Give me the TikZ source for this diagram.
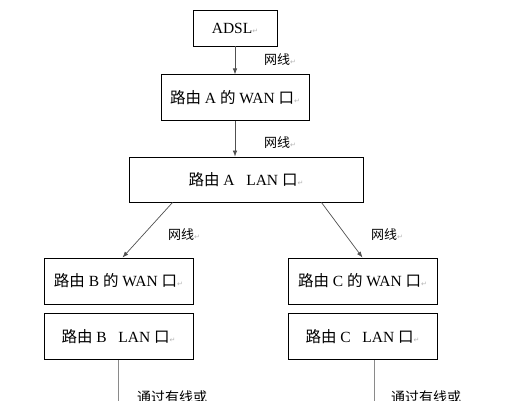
\documentclass[tikz,border=0pt]{standalone}
\usepackage{fontspec}
\setmainfont{Liberation Serif}
\newfontfamily\cjk{Noto Sans CJK SC}
\newfontfamily\symfont{DejaVu Sans}
\usepackage{tikz}
\usetikzlibrary{arrows.meta, positioning}
\definecolor{LineGray}{HTML}{505050}
\definecolor{LeadGray}{HTML}{8A8A8A}
\definecolor{MarkGray}{HTML}{B4B4B4}
\newcommand{\zh}[1]{{\cjk #1}}
\newcommand{\ret}{{\symfont\color{MarkGray}\fontsize{7}{7}\selectfont ↵}}

\begin{document}
\begin{tikzpicture}[x=1pt, y=-1pt, >=Latex,
  box/.style={draw, line width=0.8pt, inner sep=0pt, minimum width=149pt, minimum height=46pt, font=\fontsize{15.5}{17}\selectfont},
  wire/.style={-{Latex[length=6pt,width=4.5pt]}, draw=LineGray, line width=0.7pt},
  lead/.style={draw=LeadGray, line width=0.8pt},
  tag/.style={inner sep=0pt, font=\fontsize{13}{14}\selectfont}]
  \useasboundingbox (0,0) rectangle (512,400);
  \clip (0,0) rectangle (512,400);
  % top chain
  \node[box, minimum width=84pt, minimum height=36pt] (adsl) at (235,28) {ADSL\ret};
  \node[box, minimum width=148pt, below=28pt of adsl] (wanA) {\zh{路由} A \zh{的} WAN \zh{口}\ret};
  \node[box, minimum width=234pt, minimum height=45pt] (lanA) at (246,179.5) {\zh{路由} A\ \ \ LAN \zh{口}\ret};
  % routers B and C
  \node[box] (wanB) at (118.5,281) {\zh{路由} B \zh{的} WAN \zh{口}\ret};
  \node[box, below=9pt of wanB] (lanB) {\zh{路由} B\ \ \ LAN \zh{口}\ret};
  \node[box] (wanC) at (362.5,281) {\zh{路由} C \zh{的} WAN \zh{口}\ret};
  \node[box, below=9pt of wanC] (lanC) {\zh{路由} C\ \ \ LAN \zh{口}\ret};

  \draw[wire] (adsl) -- (wanA);
  \draw[wire] (wanA.south) -- (wanA.south |- lanA.north);
  \draw[wire] ([xshift=44pt]lanA.south west) -- ([xshift=4pt]wanB.north);
  \draw[wire] ([xshift=-42pt]lanA.south east) -- (wanC.north);

  \node[tag, anchor=west] (tag1) at (264,60) {\zh{网线}\ret};
  \node[tag, anchor=west] (tag2) at (264,143) {\zh{网线}\ret};
  \node[tag, anchor=west] (tag3) at (168,235) {\zh{网线}\ret};
  \node[tag, anchor=west] (tag4) at (371,235) {\zh{网线}\ret};

  % leads running off the page
  \coordinate (endB) at (lanB.south |- 0,420);
  \coordinate (endC) at ([xshift=12pt]lanC.south |- 0,420);
  \draw[lead] (lanB.south) -- (endB);
  \draw[lead] ([xshift=12pt]lanC.south) -- (endC);
  \node[tag, anchor=north west, font=\fontsize{14}{15}\selectfont] (noteB) at (137,391) {\zh{通过有线或}};
  \node[tag, anchor=north west, font=\fontsize{14}{15}\selectfont] (noteC) at (391,391) {\zh{通过有线或}};
\end{tikzpicture}
\end{document}
